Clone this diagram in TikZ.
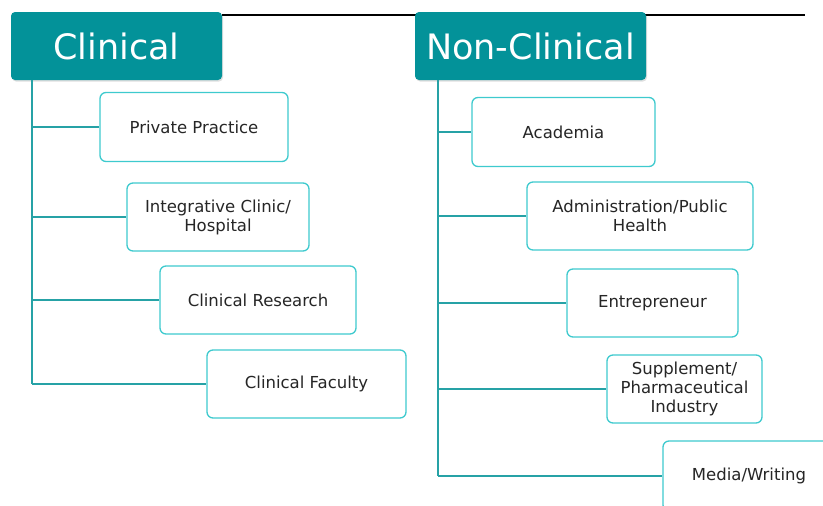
\documentclass[tikz,border=0pt]{standalone}
\usepackage{fontspec}
\setmainfont{DejaVu Sans}
\usetikzlibrary{shadows}
\definecolor{headteal}{RGB}{3,146,153}
\definecolor{boxteal}{RGB}{62,202,206}
\definecolor{lineteal}{RGB}{38,162,166}

\begin{document}
\begin{tikzpicture}[x=1pt,y=-1pt,
    head/.style={fill=headteal, rounded corners=4pt, text=white, inner sep=0pt,
        font=\fontsize{35}{40}\selectfont,
        drop shadow={shadow xshift=1pt, shadow yshift=-1.5pt, opacity=0.25}},
    career/.style={draw=boxteal, line width=1.3pt, fill=white, rounded corners=6pt,
        align=center, inner sep=0pt, text=black!85,
        font=\fontsize{16.5}{19}\selectfont},
    branch/.style={draw=lineteal, line width=1.5pt}]
\useasboundingbox (0,0) rectangle (823,506);
\clip (0,0) rectangle (823,506);

% Top rule
\coordinate (rulea) at (222,15);
\coordinate (ruleb) at (805,15);
\draw[line width=1.3pt] (rulea) -- (ruleb);

% Headings
\node[head, minimum width=211pt, minimum height=68pt] (clin) at (116.5,46) {Clinical};
\node[head, minimum width=231pt, minimum height=68pt] (ncl) at (530.5,46) {Non-Clinical};

% Clinical careers
\node[career, minimum width=188pt, minimum height=69pt] (pp) at (194,127) {Private Practice};
\node[career, minimum width=182pt, minimum height=68pt] (ic) at (218,217) {Integrative Clinic/\\Hospital};
\node[career, minimum width=196pt, minimum height=68pt] (cr) at (258,300) {Clinical Research};
\node[career, minimum width=199pt, minimum height=68pt] (cf) at (306.5,384) {Clinical Faculty};

% Non-clinical careers
\node[career, minimum width=183pt, minimum height=69pt] (ac) at (563.5,132) {Academia};
\node[career, minimum width=226pt, minimum height=68pt] (ad) at (640,216) {Administration/Public\\Health};
\node[career, minimum width=171pt, minimum height=68pt] (en) at (652.5,303) {Entrepreneur};
\node[career, minimum width=155pt, minimum height=68pt] (sp) at (684.5,389) {Supplement/\\Pharmaceutical\\Industry};
\node[career, minimum width=172pt, minimum height=70pt] (mw) at (749,476) {Media/Writing};

% Spines
\coordinate (clspine) at (32,80);
\coordinate (ncspine) at (438,80);
\draw[branch] (clspine) -- (clspine |- cf.west);
\draw[branch] (ncspine) -- (ncspine |- mw.west);

% Branches
\foreach \n in {pp,ic,cr,cf}
    \draw[branch] (clspine |- \n.west) -- (\n.west);
\foreach \n in {ac,ad,en,sp,mw}
    \draw[branch] (ncspine |- \n.west) -- (\n.west);
\end{tikzpicture}
\end{document}
